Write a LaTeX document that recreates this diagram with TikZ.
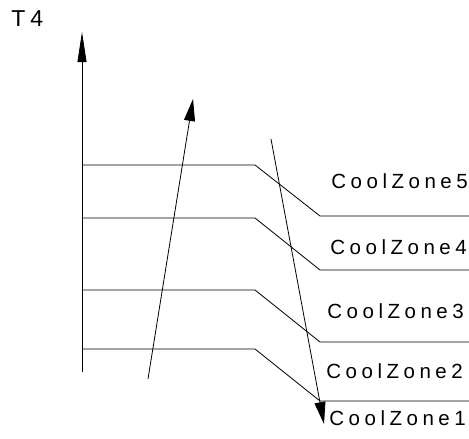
\documentclass[tikz,border=0pt]{standalone}
\usepackage{fontspec}
\setmainfont{Liberation Sans}
\newfontfamily\zonefont[LetterSpace=22]{Liberation Sans}
\usetikzlibrary{arrows.meta}
\begin{document}
\begin{tikzpicture}[x=1pt,y=-1pt, line width=0.8pt,
	zone/.style={anchor=base west, inner sep=0pt, font=\zonefont\fontsize{20.5}{24}\selectfont},
	trend/.style={-{Triangle[length=22pt,width=11pt]}}]
			\useasboundingbox (0,0) rectangle (469,439);
			\coordinate (o) at (82,372);
			\coordinate (top) at (82,32);
			\node[zone, font=\zonefont\fontsize{23}{27}\selectfont] (t4) at (11,27) {T4};
			\draw[-{Triangle[length=30pt,width=9pt]}] (o) -- (top);
			
			\coordinate (up1) at (148,379);
			\coordinate (up2) at (193,99);
			\coordinate (down1) at (271,139);
			\coordinate (down2) at (324,424);
			
			\foreach \n/\ya/\yb in {5/165/216,4/218/270,3/290/342,2/349/401}
			\draw (82,\ya) -- (255,\ya) -- (320,\yb) -- (469,\yb);
			
			\node[zone] (z5) at (331,188) {CoolZone5};
			\node[zone] (z4) at (330,254) {CoolZone4};
			\node[zone] (z3) at (327,318) {CoolZone3};
			\node[zone] (z2) at (326,378) {CoolZone2};
			\node[zone] (z1) at (329,425) {CoolZone1};
			
			\draw[trend] (up1) -- (up2);
			\draw[trend] (down1) -- (down2);
		\end{tikzpicture}
\end{document}
